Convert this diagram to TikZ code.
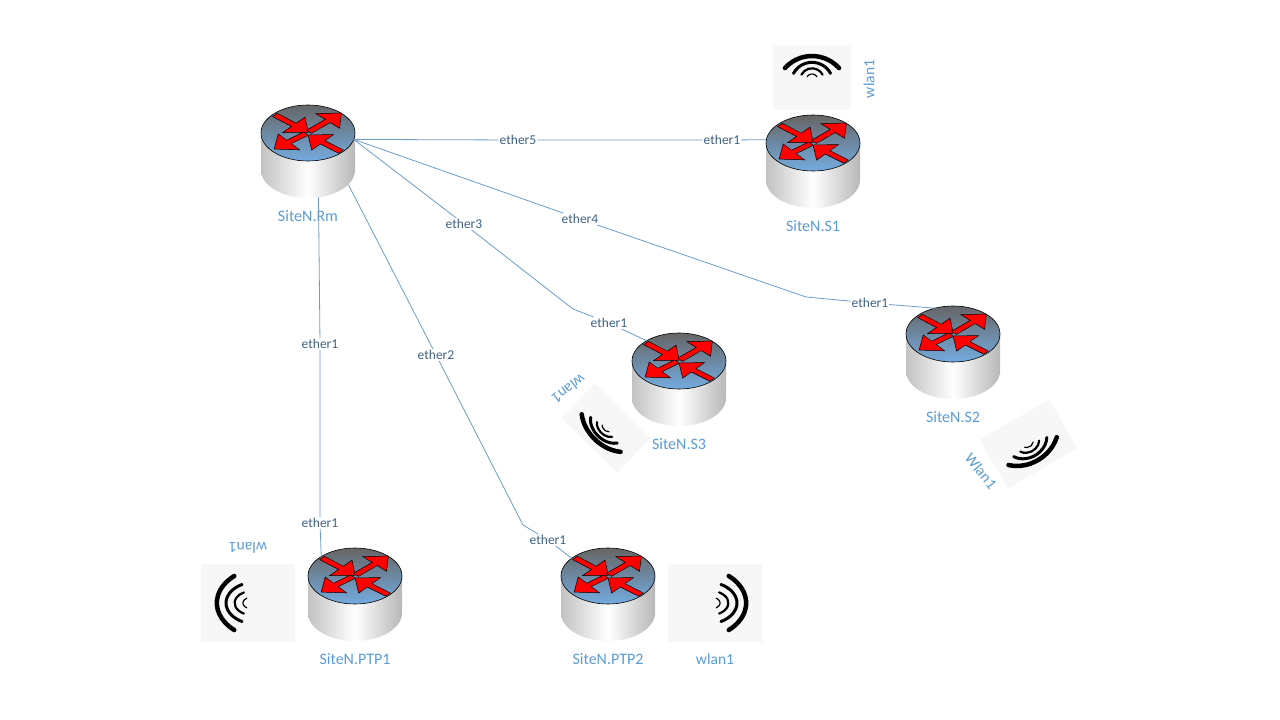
\documentclass[tikz,border=0pt]{standalone}
\usepackage{fontspec}
\setmainfont{Carlito}
\usetikzlibrary{shapes.geometric}
\definecolor{linkblue}{HTML}{6C9CC9}
\definecolor{labelblue}{HTML}{5B9BD5}
\definecolor{portblue}{HTML}{3F6285}
\definecolor{iconbg}{HTML}{F7F7F7}
\definecolor{facemid}{HTML}{6790BB}
\definecolor{facelow}{HTML}{74ABDF}
\tikzset{link/.style={draw=linkblue,line width=.8pt},
port/.style={fill=white,text=portblue,font=\fontsize{13.5}{13.5}\selectfont,inner sep=1pt},
sitelabel/.style={text=labelblue,font=\fontsize{16}{16}\selectfont,inner sep=0pt},
wlanlabel/.style={text=labelblue,font=\fontsize{15.5}{15.5}\selectfont,inner sep=0pt},
redarrow/.style={fill=red,draw=black,line width=.5pt,line join=miter},
router/.pic={
\path[left color=black!24,right color=black!28,middle color=white,shading angle=90] (-47,0) -- (-47,37) arc[start angle=180,delta angle=-180,x radius=47,y radius=28] -- (47,0) -- cycle;
\node[ellipse,minimum width=95pt,minimum height=56pt,inner sep=0pt,outer sep=0pt] (-base) at (0,37) {};
\node[ellipse,draw=black,line width=.6pt,minimum width=94pt,minimum height=56pt,inner sep=0pt,outer sep=0pt,top color=black!60,middle color=facemid,bottom color=facelow] (-top) at (0,0) {};
\foreach \x/\y/\r/\l in {-33/-30/-41/44,1/-2/44/45,-2/1/219/41,33/31/140/43}
\draw[redarrow,yscale=.6,shift={(\x,\y)},rotate=\r] (0,-3.6) -- (\l-19,-3.6) -- (\l-19,-17) -- (\l,0) -- (\l-19,17) -- (\l-19,3.6) -- (0,3.6) -- cycle;
\node[sitelabel] (-label) at (0,83) {\tikzpictext};
},
wlan/.pic={
\fill[iconbg] (-39,-32.5) rectangle (39,32.5);
\foreach \r/\a/\c/\w in {36.4/48/14.9/4.5,21/62/5.8/3,12/62/2.8/2.2,5.7/58/2.2/1.2}
\draw[black,line width=\w pt,line cap=round] (0,\c) ++(270-\a:\r) arc[start angle=270-\a,delta angle=2*\a,radius=\r];
}}
\begin{document}
\begin{tikzpicture}[x=1pt,y=-1pt]
\useasboundingbox (0,0) rectangle (1280,720);
% wireless icons
\pic at (812,77.5) {wlan};
\pic[rotate=-150,yscale=.87,xscale=1.03] at (1028.5,444) {wlan};
\pic[rotate=136,yscale=.74] at (606,428) {wlan};
\pic[rotate=90,yscale=1.45,xscale=1] at (248,603) {wlan};
\pic[rotate=-90,yscale=1.45,xscale=1] at (715,603) {wlan};
% routers
\pic[pic text=SiteN.Rm] (rm) at (308,133) {router};
\pic[pic text=SiteN.S1] (sa) at (813,143) {router};
\pic[pic text=SiteN.S2] (sb) at (953,334) {router};
\pic[pic text=SiteN.S3] (sc) at (679,361) {router};
\pic[pic text=SiteN.PTP1] (pa) at (355,576) {router};
\pic[pic text=SiteN.PTP2] (pb) at (608,576) {router};
% ports
\node[port] (e5) at (518,140) {ether5};
\node[port] (e5a) at (722,140) {ether1};
\node[port] (e4) at (580,219) {ether4};
\node[port] (e4a) at (870,303) {ether1};
\node[port] (e3) at (464,224) {ether3};
\node[port] (e3a) at (609,323) {ether1};
\node[port] (e2) at (436,355) {ether2};
\node[port] (e2a) at (548,540) {ether1};
\node[port] (e1) at (320,344) {ether1};
\node[port] (e1a) at (320,523) {ether1};
\coordinate (b4) at (806,297);
\coordinate (b3) at (573,309);
\coordinate (b2) at (523,525);
\draw[link] (rm-top.-8) -- (e5) -- (e5a) -- (sa-top.176);
\draw[link] (rm-top.-8) -- (e4) -- (b4) -- (e4a) -- (sb-top.125);
\draw[link] (rm-top.-8) -- (e3) -- (b3) -- (e3a) -- (sc-top.148);
\draw[link] (rm-base.-20) -- (e2) -- (b2) -- (e2a) -- (pb-top.154);
\draw[link] (rm-base.-69) -- (e1) -- (e1a) -- (pa-top.150);
% wlan labels
\node[wlanlabel,rotate=90] (ws1) at (869,79) {wlan1};
\node[wlanlabel,rotate=-51] (ws2) at (981,471) {Wlan1};
\node[wlanlabel,rotate=218] (ws3) at (569,389) {wlan1};
\node[wlanlabel,rotate=180] (wp1) at (248,548) {wlan1};
\node[wlanlabel] (wp2) at (715,659) {wlan1};
\end{tikzpicture}
\end{document}
